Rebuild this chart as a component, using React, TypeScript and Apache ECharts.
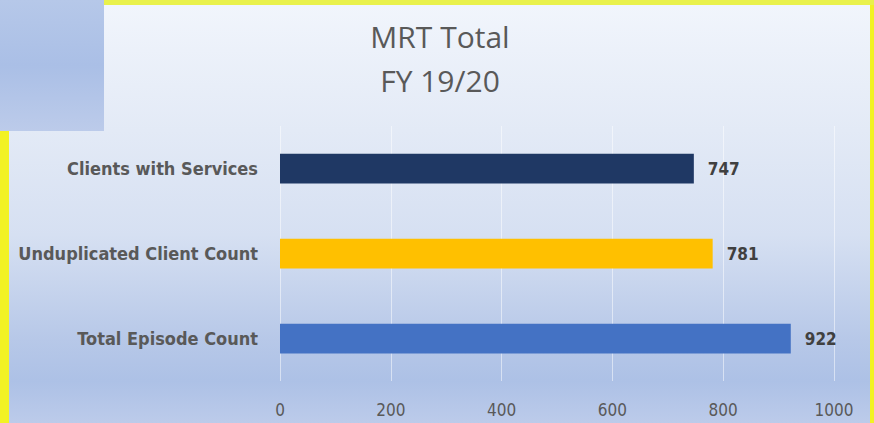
import React, { useEffect, useRef } from "react";
import * as echarts from "echarts";

const categories = ["Total Episode Count", "Unduplicated Client Count", "Clients with Services"];
const values = [922, 781, 747];
const barColors = ["#4472c4", "#ffc000", "#1f3864"];
const titleLines = ["MRT Total", "FY 19/20"];

const narrow = "DejaVu Sans Condensed, Liberation Sans Narrow, sans-serif";

export default function App() {
  const ref = useRef<HTMLDivElement>(null);
  useEffect(() => {
    document.body.style.margin = "0";
    const chart = echarts.init(ref.current!, null, { renderer: "svg" });
    chart.setOption({
      animation: false,
      backgroundColor: "transparent",
      title: {
        text: titleLines.join("\n"),
        left: 435,
        textAlign: "center",
        top: 9,
        textStyle: {
          fontFamily: "Open Sans, sans-serif",
          fontWeight: "normal",
          fontSize: 30,
          lineHeight: 44,
          color: "#595959",
        },
      },
      grid: { left: 280, right: 40, top: 126, bottom: 42, containLabel: false },
      xAxis: {
        type: "value",
        min: 0,
        max: 1000,
        interval: 200,
        axisLine: { show: false },
        axisTick: { show: false },
        splitLine: { show: true, lineStyle: { color: "rgba(255,255,255,0.5)", width: 1 } },
        axisLabel: {
          color: "#595959",
          fontFamily: narrow,
          fontSize: 17,
          margin: 20,
          formatter: (v: number) => String(v),
        },
      },
      yAxis: {
        type: "category",
        data: categories,
        axisLine: { show: false },
        axisTick: { show: false },
        axisLabel: {
          color: "#595959",
          fontFamily: narrow,
          fontWeight: "bold",
          fontSize: 18,
          margin: 22,
        },
      },
      series: [
        {
          type: "bar",
          data: values.map((v, i) => ({ value: v, itemStyle: { color: barColors[i] } })),
          barWidth: "35%",
          label: {
            show: true,
            position: "right",
            distance: 14,
            color: "#404040",
            fontFamily: narrow,
            fontWeight: "bold",
            fontSize: 17,
          },
        },
      ],
    });
    return () => chart.dispose();
  }, []);

  return (
    <div style={{ position: "relative", width: 874, height: 423, background: "#f2f224", overflow: "hidden" }}>
      <div style={{ position: "absolute", left: 0, top: 0, width: 874, height: 5, background: "#e9f14c" }} />
      <div
        style={{
          position: "absolute",
          left: 9,
          top: 5,
          width: 861,
          height: 418,
          background:
            "linear-gradient(to bottom, #f1f5fc 0%, #e3eaf6 30%, #d6e0f2 55%, #b7c8e8 80%, #adc1e6 90%, #bccbea 100%)",
        }}
      />
      <div
        style={{
          position: "absolute",
          left: 0,
          top: 0,
          width: 104,
          height: 131,
          background: "linear-gradient(to bottom, #b6c8e9 0%, #aabfe6 50%, #bccbea 100%)",
        }}
      />
      <div ref={ref} style={{ position: "absolute", left: 0, top: 0, width: 874, height: 423 }} />
    </div>
  );
}
